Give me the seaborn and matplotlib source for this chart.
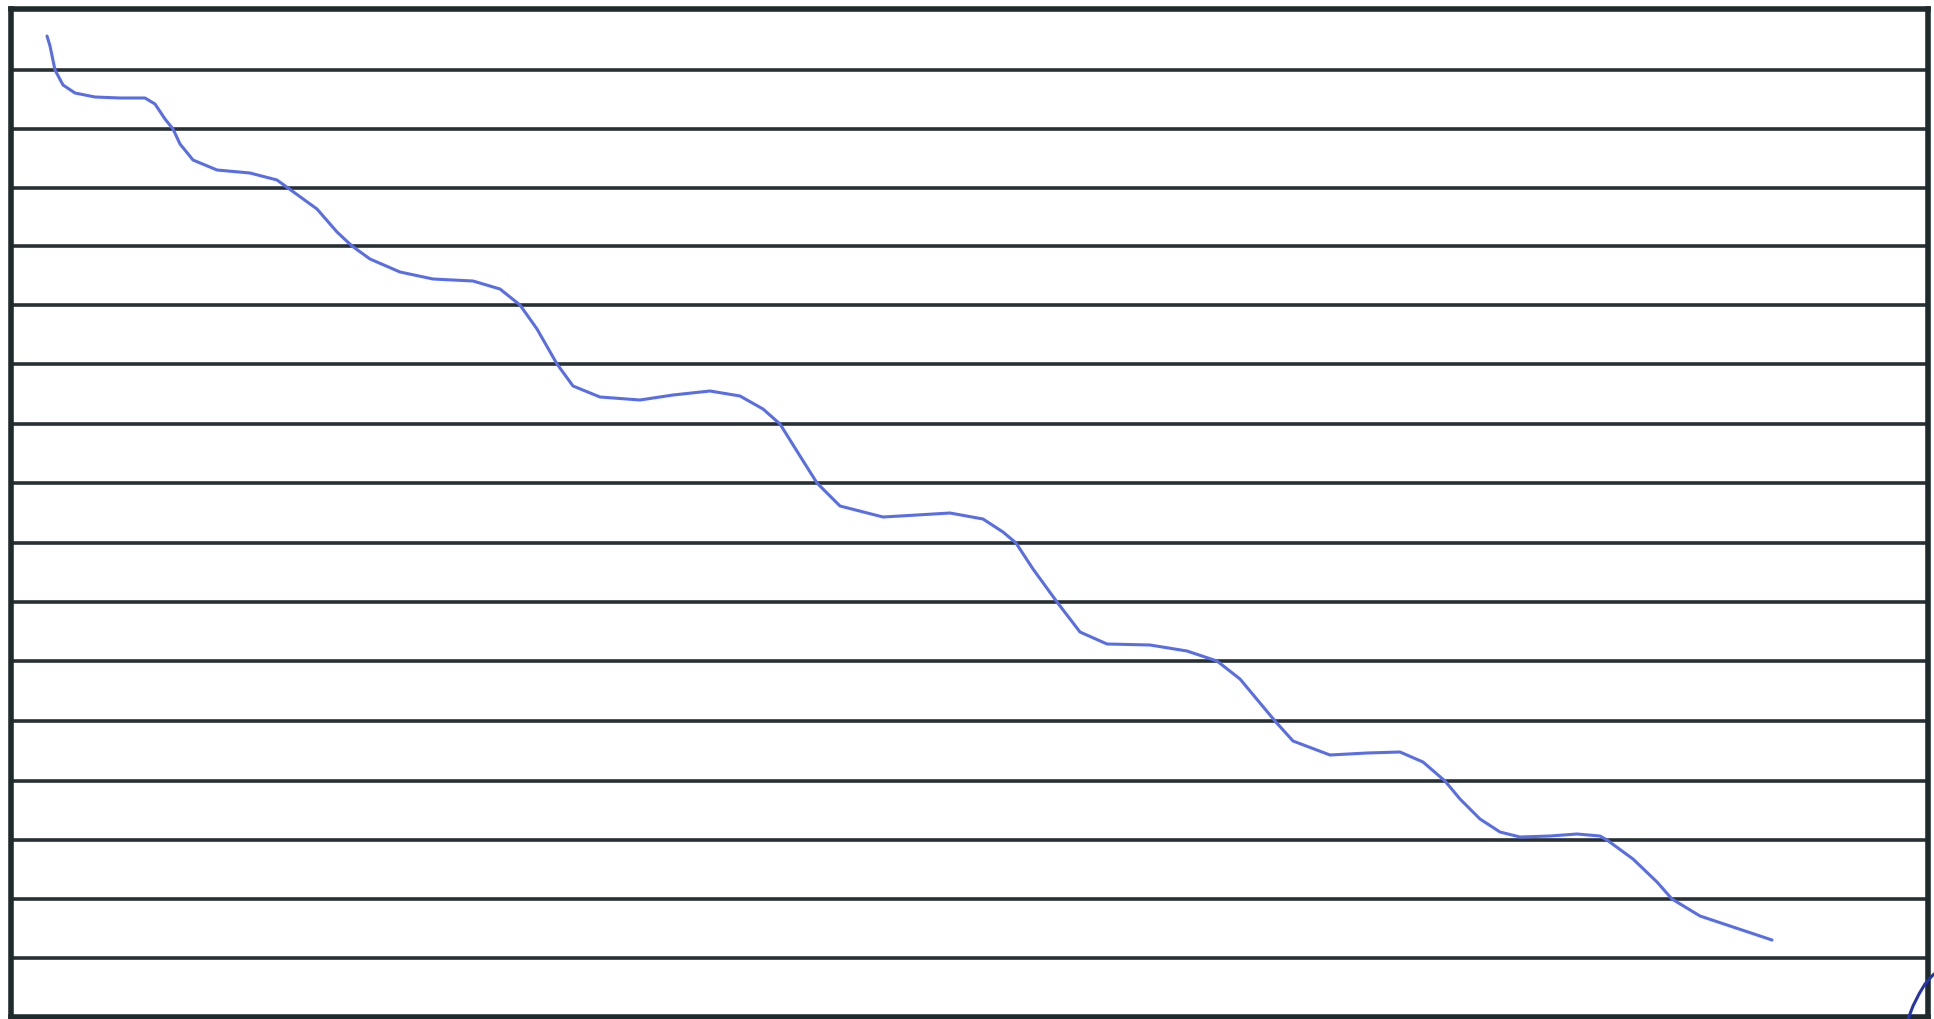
import numpy as np
import matplotlib
matplotlib.use("Agg")
import matplotlib.pyplot as plt
import pandas as pd
import seaborn as sns

# hand-drawn curve (page units, y grows downward)
curve_x = [47, 50, 55, 63, 75, 95, 120, 145, 155, 165, 173, 180, 193, 217, 250, 277, 288,
           317, 337, 352, 370, 400, 433, 473, 500, 520, 537, 557, 573, 600, 640, 673, 710,
           740, 763, 780, 800, 817, 840, 883, 917, 950, 983, 1003, 1016, 1033, 1057, 1080,
           1107, 1150, 1187, 1217, 1240, 1275, 1293, 1330, 1367, 1400, 1423, 1445, 1460,
           1480, 1500, 1520, 1550, 1577, 1600, 1607, 1633, 1657, 1672, 1700, 1733, 1772]
curve_y = [37, 47, 71, 86, 94, 98, 99, 99, 105, 120, 130, 145, 161, 171, 174, 181, 189,
           210, 233, 247, 260, 273, 280, 282, 290, 306, 330, 365, 387, 398, 401, 396, 392,
           397, 410, 425, 457, 484, 507, 518, 516, 514, 520, 533, 544, 570, 603, 633,
           645, 646, 652, 662, 680, 722, 742, 756, 754, 753, 763, 782, 800,
           820, 833, 838, 837, 835, 837, 841, 860, 883, 900, 917, 928, 941]

# ruled lines of the paper
rule_y = [71, 130, 189, 247, 306, 365, 425, 484, 544, 603, 662, 722, 782, 841, 900, 959]

# small pen stroke cut off at the bottom-right corner
mark_x = [1908, 1913, 1919, 1925, 1931, 1934]
mark_y = [1020, 1007, 995, 985, 978, 975]

frame_left, frame_right = 11, 1928
frame_top, frame_bottom = 10, 1018
W, H = 1934, 1020

sns.set_style("white")
fig = plt.figure(figsize=(W / 100, H / 100), dpi=100)
ax = fig.add_axes([frame_left / W, 1 - frame_bottom / H,
                   (frame_right - frame_left) / W, (frame_bottom - frame_top) / H])
ax.set_xlim(frame_left, frame_right)
ax.set_ylim(frame_bottom, frame_top)

ax.hlines(rule_y, frame_left, frame_right, color="#283034", linewidth=2.6, zorder=1)

df = pd.DataFrame({"x": curve_x, "y": curve_y})
sns.lineplot(data=df, x="x", y="y", sort=False, estimator=None, ax=ax,
             color="#5a6ee4", linewidth=2.2, zorder=3,
             solid_joinstyle="round", solid_capstyle="round")

mk = pd.DataFrame({"x": mark_x, "y": mark_y})
sns.lineplot(data=mk, x="x", y="y", sort=False, estimator=None, ax=ax,
             color="#2433b0", linewidth=2.2, clip_on=False, zorder=4)

for side in ["left", "right", "top", "bottom"]:
    ax.spines[side].set_visible(True)
    ax.spines[side].set_color("#1f2a2c")
    ax.spines[side].set_linewidth(4.0)

ax.set_xticks([])
ax.set_yticks([])
ax.set_xlabel("")
ax.set_ylabel("")

fig.savefig("out.png", dpi=100, facecolor="white")
